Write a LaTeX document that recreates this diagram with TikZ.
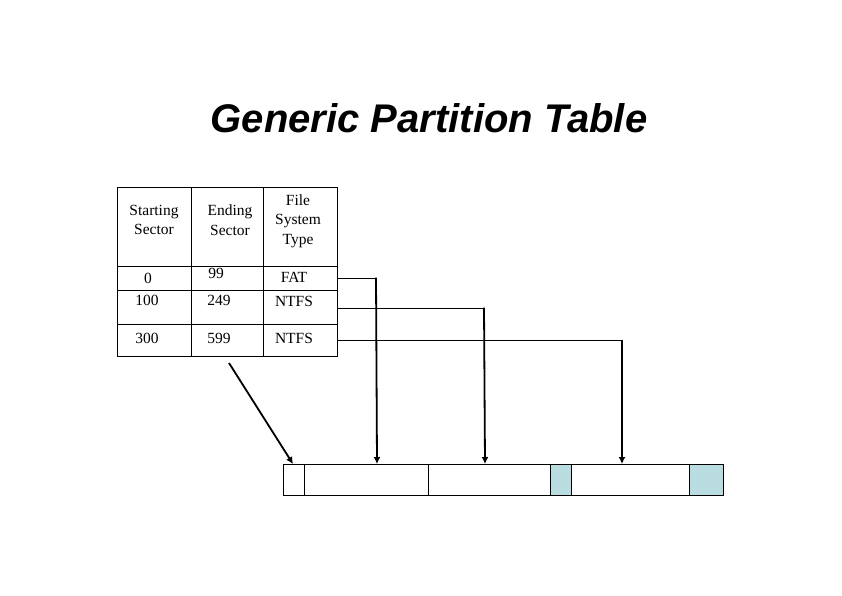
\documentclass[tikz,border=0pt]{standalone}
\usepackage{fontspec}
\usetikzlibrary{arrows.meta}
\setmainfont{Liberation Serif}
\newfontfamily\titlefont{Liberation Sans}
\begin{document}
\begin{tikzpicture}[x=1pt,y=-1pt,
  cell/.style={font=\fontsize{15.5}{19.5}\selectfont,align=center,inner sep=0},
  ln/.style={line width=1pt},
  arr/.style={line width=1.8pt,-{Latex[length=7pt,width=7pt]}},
  seg/.style={draw,line width=0.9pt}]
\useasboundingbox (0,0) rectangle (842,595);
\node[font=\titlefont\bfseries\itshape\fontsize{40}{44}\selectfont] (title) at (429,118) {Generic Partition Table};
% table
\draw[line width=0.9pt] (117,187) rectangle (337,356);
\foreach \x in {191,263} \draw[line width=0.9pt] (\x,187) -- (\x,356);
\foreach \y in {266,290,324} \draw[line width=0.9pt] (117,\y) -- (337,\y);
\node[cell] (h1) at (154,220) {Starting\\Sector};
\node[cell] (h2) at (230,220) {Ending\\Sector};
\node[cell] (h3) at (298,221) {File\\System\\Type};
\node[cell] (a1) at (148,278) {0};
\node[cell] (a2) at (216,273) {99};
\node[cell] (a3) at (294,277) {FAT};
\node[cell] (b1) at (147,300) {100};
\node[cell] (b2) at (219,300) {249};
\node[cell] (b3) at (294,301) {NTFS};
\node[cell] (c1) at (147,338) {300};
\node[cell] (c2) at (219,338) {599};
\node[cell] (c3) at (294,338) {NTFS};
% bar
\path[seg] (283,464) rectangle (304,495);
\path[seg] (304,464) rectangle (428,495);
\path[seg] (428,464) rectangle (550,495);
\path[seg,fill={rgb,255:red,184;green,220;blue,224}] (550,464) rectangle (571,495);
\path[seg] (571,464) rectangle (689,495);
\path[seg,fill={rgb,255:red,184;green,220;blue,224}] (689,464) rectangle (723,495);
\coordinate (p0) at (293,464);
\coordinate (p1) at (377,464);
\coordinate (p2) at (485,464);
\coordinate (p3) at (622,464);
\coordinate (s0) at (229,363);
% connectors
\draw[ln] (337,278) -- (376,278);
\draw[arr] (376,277.5) -- (p1);
\draw[ln] (337,308) -- (484,308);
\draw[arr] (484,307.5) -- (p2);
\draw[ln] (337,340) -- (622,340);
\draw[arr] (622,339.5) -- (p3);
\draw[arr] (s0) -- (p0);
\end{tikzpicture}
\end{document}
